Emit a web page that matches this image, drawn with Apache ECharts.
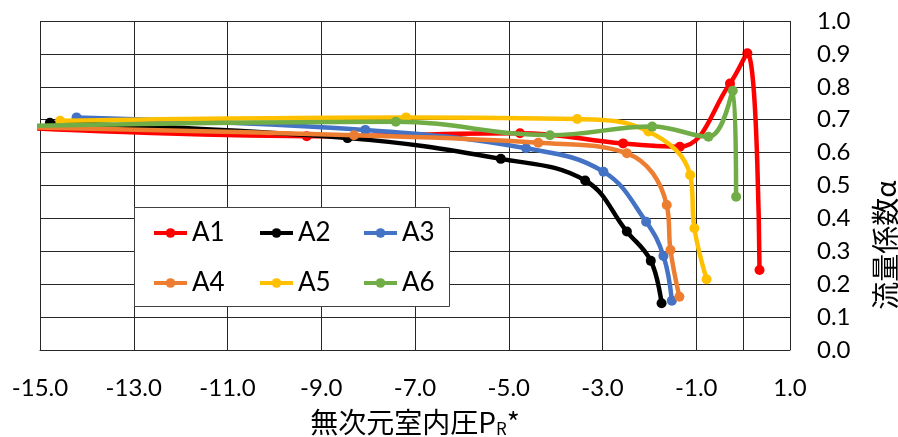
<!DOCTYPE html>
<html>
<head>
<meta charset="utf-8">
<script src="https://cdn.jsdelivr.net/npm/echarts@6/dist/echarts.min.js"></script>
<style>
html,body{margin:0;padding:0;background:#fff;}
#chart{width:898px;height:437px;}
</style>
</head>
<body>
<div id="chart"></div>
<script>
// ---- data ----
const seriesNames = ['A1', 'A2', 'A3', 'A4', 'A5', 'A6'];
const seriesColors = ['#FF0000', '#000000', '#4472C4', '#ED7D31', '#FFC000', '#70AD47'];

const a1X = [-15.3, -9.31, -4.76, -2.56, -1.35, -0.28, 0.09, 0.35];
const a1Y = [0.675, 0.650, 0.659, 0.628, 0.618, 0.810, 0.902, 0.243];

const a2X = [-14.79, -8.44, -5.17, -3.37, -2.48, -1.97, -1.74];
const a2Y = [0.691, 0.644, 0.581, 0.515, 0.360, 0.271, 0.142];

const a3X = [-14.22, -8.06, -4.63, -2.98, -2.07, -1.70, -1.52];
const a3Y = [0.707, 0.669, 0.613, 0.542, 0.390, 0.286, 0.150];

const a4X = [-15.3, -8.30, -4.37, -2.48, -1.63, -1.55, -1.36];
const a4Y = [0.677, 0.653, 0.630, 0.598, 0.441, 0.304, 0.162];

const a5X = [-14.57, -7.19, -3.54, -2.02, -1.13, -1.04, -0.78];
const a5Y = [0.697, 0.707, 0.702, 0.664, 0.532, 0.370, 0.215];

const a6X = [-15.3, -7.41, -4.12, -1.94, -0.74, -0.22, -0.15];
const a6Y = [0.681, 0.694, 0.653, 0.679, 0.648, 0.788, 0.466];

const xMin = -15, xMax = 1, xStep = 2;
const yMin = 0, yMax = 1, yStep = 0.1;
const xAxisTitle = '無次元室内圧';
const xAxisTitleSymbol = 'P';
const xAxisTitleSub = 'R';
const xAxisTitleSuffix = '*';
const yAxisTitle = '流量係数α';

// ---- build ----
const xs = [a1X, a2X, a3X, a4X, a5X, a6X];
const ys = [a1Y, a2Y, a3Y, a4Y, a5Y, a6Y];

const latin = 'Lato, "Noto Sans", sans-serif';
const cjk = '"Noto Sans CJK JP", sans-serif';
const gridColor = '#262626';

const series = seriesNames.map((name, i) => ({
  name: name,
  type: 'line',
  data: xs[i].map((x, k) => [x, ys[i][k]]),
  smooth: 0.4,
  symbol: 'circle',
  symbolSize: 10,
  showAllSymbol: true,
  clip: true,
  itemStyle: { color: seriesColors[i] },
  lineStyle: { color: seriesColors[i], width: 4.5 },
  z: 3 + i
}));
// vertical axis line crossing at x = 0
series.push({
  name: 'axis0',
  type: 'line',
  data: [],
  z: 1,
  markLine: {
    silent: true,
    symbol: 'none',
    label: { show: false },
    lineStyle: { color: gridColor, width: 1, type: 'solid' },
    data: [{ xAxis: 0 }]
  }
});

const legendLefts = [152, 258, 362];
const legendTops = [220, 270];
const legends = seriesNames.map((n, i) => ({
  data: [n],
  left: legendLefts[i % 3],
  top: legendTops[Math.floor(i / 3)],
  padding: 0,
  itemWidth: 33,
  itemHeight: 12,
  selectedMode: false,
  lineStyle: { width: 4 },
  textStyle: { fontSize: 26, fontFamily: latin, color: '#000' },
  z: 10
}));

const chart = echarts.init(document.getElementById('chart'), null, { renderer: 'canvas' });
chart.setOption({
  animation: false,
  backgroundColor: '#fff',
  grid: { left: 40, right: 108, top: 21, bottom: 87, containLabel: false, outerBoundsMode: 'none' },
  legend: legends,
  xAxis: {
    type: 'value',
    min: xMin, max: xMax, interval: xStep,
    axisLine: { show: true, onZero: false, lineStyle: { color: gridColor, width: 1 } },
    axisTick: { show: false },
    splitLine: { show: true, lineStyle: { color: gridColor, width: 1 } },
    axisLabel: {
      margin: 26,
      fontSize: 24, fontFamily: latin, color: '#000',
      formatter: v => v.toFixed(1)
    },
    name: '{c|' + xAxisTitle + xAxisTitleSymbol + '}{s|' + xAxisTitleSub + '}{c|' + xAxisTitleSuffix + '}',
    nameLocation: 'middle',
    nameGap: 56,
    nameTextStyle: {
      rich: {
        c: { fontSize: 28, fontFamily: cjk, color: '#000', lineHeight: 32 },
        s: { fontSize: 17, fontFamily: cjk, color: '#000', lineHeight: 32, padding: [14, 0, 0, 0] }
      }
    }
  },
  yAxis: {
    type: 'value',
    position: 'right',
    min: yMin, max: yMax, interval: yStep,
    axisLine: { show: true, lineStyle: { color: gridColor, width: 1 } },
    axisTick: { show: false },
    splitLine: { show: true, lineStyle: { color: gridColor, width: 1 } },
    axisLabel: {
      margin: 27,
      fontSize: 24, fontFamily: latin, color: '#000',
      formatter: v => v.toFixed(1)
    }
  },
  graphic: [
    {
      type: 'rect',
      z: 5,
      shape: { x: 134.5, y: 207.5, width: 315, height: 99 },
      style: { fill: '#fff', stroke: '#404040', lineWidth: 1 }
    },
    {
      type: 'text',
      z: 5,
      x: 885, y: 245,
      rotation: Math.PI / 2,
      style: {
        text: yAxisTitle,
        fontSize: 28, fontFamily: cjk, fill: '#000',
        align: 'center', verticalAlign: 'middle'
      }
    }
  ],
  series: series
});
</script>
</body>
</html>
